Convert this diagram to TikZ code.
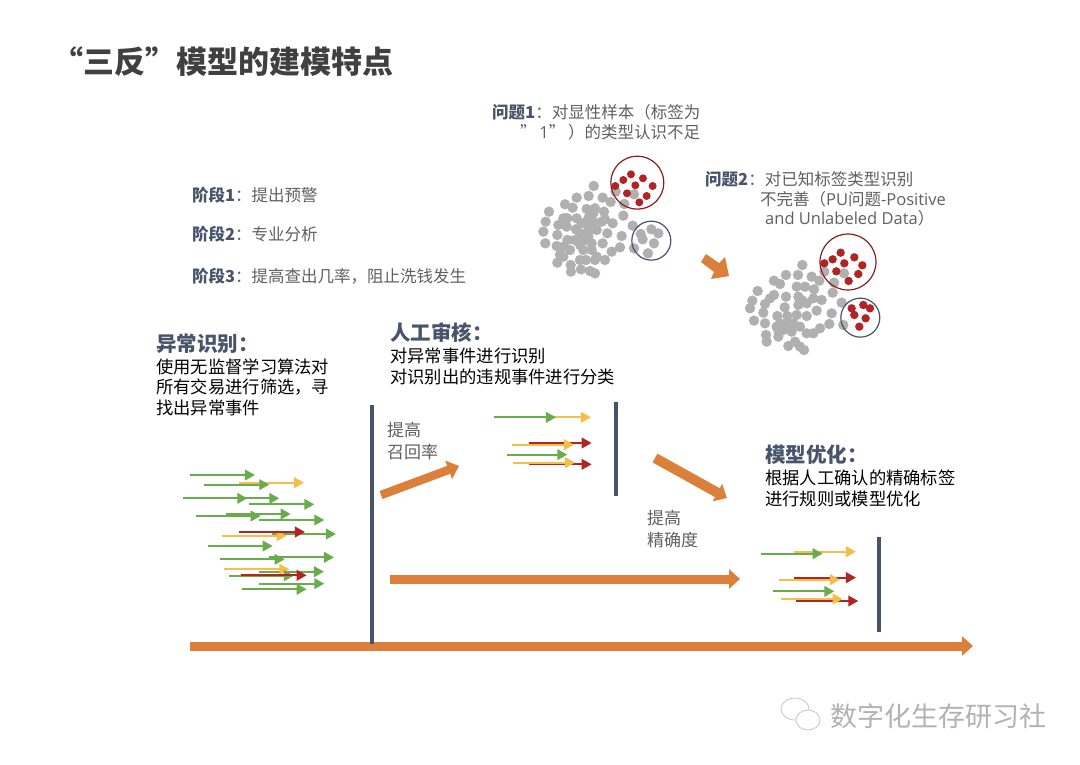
\documentclass[tikz,border=0pt]{standalone}
\usepackage{xcolor}
\usepackage{fontspec}
\setmainfont{Noto Sans CJK SC}
\newfontfamily\latinfont{Open Sans}
\usetikzlibrary{arrows.meta, positioning}
\definecolor{FlowOrange}{RGB}{219, 127, 58}
\definecolor{FlowNavy}{RGB}{72, 84, 106}
\definecolor{FlowGreen}{RGB}{106, 171, 76}
\definecolor{FlowYellow}{RGB}{243, 190, 75}
\definecolor{FlowRed}{RGB}{176, 36, 36}
\definecolor{DotGray}{RGB}{176, 176, 176}
\definecolor{TitleGray}{RGB}{64, 64, 64}
\definecolor{NoteGray}{RGB}{96, 96, 96}
\tikzset{
  textnote/.style={anchor=west, inner sep=0pt, text=NoteGray, font=\fontsize{16.5}{20}\selectfont},
  headnote/.style={anchor=west, inner sep=0pt, text=FlowNavy, font=\fontsize{20.5}{24}\selectfont\bfseries},
  bodynote/.style={anchor=north west, inner sep=0pt, align=left, text=black, font=\fontsize{17.3}{20.5}\selectfont},
  gainnote/.style={anchor=north west, inner sep=0pt, align=left, text=NoteGray, font=\fontsize{17}{22}\selectfont},
  fatarrow/.style={draw=FlowOrange, line width=#1, -{Triangle[length=11pt, width=19pt, fill=FlowOrange]}},
  limitline/.style={draw=FlowNavy, line width=3.5pt},
  greenarrow/.style={draw=FlowGreen, line width=2.2pt, -{Triangle[length=10pt, width=10.5pt]}},
  yellowarrow/.style={draw=FlowYellow, line width=2.2pt, -{Triangle[length=10pt, width=10.5pt]}},
  redarrow/.style={draw=FlowRed, line width=2.2pt, -{Triangle[length=10pt, width=10.5pt]}},
}
\newcommand{\stagelabel}[1]{{\bfseries\color{FlowNavy}#1}}
\begin{document}
\begin{tikzpicture}[x=1pt,y=-1pt]
  \path[use as bounding box, fill=white] (0,0) rectangle (1080,764);

  % Title
  \node[anchor=west, inner sep=0pt, text=TitleGray, font=\fontsize{31}{36}\selectfont\bfseries] (title) at (52,62) {“三反”模型的建模特点};

  % Stages
  \node[textnote] (stagea) at (192,195) {\stagelabel{阶段1}：提出预警};
  \node[textnote] (stageb) at (192,234) {\stagelabel{阶段2}：专业分析};
  \node[textnote] (stagec) at (192,276) {\stagelabel{阶段3}：提高查出几率，阻止洗钱发生};

  % Problems
  \node[textnote] (proba) at (492,112) {\stagelabel{问题1}：对显性样本（标签为};
  \node[textnote] (probb) at (520,132) {”\,{\latinfont 1}”\,）的类型认识不足};
  \node[textnote] (probc) at (705,179) {\stagelabel{问题2}：对已知标签类型识别};
  \node[textnote] (probd) at (760,199) {不完善（{\latinfont PU}问题{\latinfont -Positive}};
  \node[textnote] (probe) at (765,218) {{\latinfont and Unlabeled Data}）};

  % First cluster
  \begin{scope}[shift={(480,90)},x=0.3333pt,y=-0.3333pt]
    \foreach \xa/\ya in {341/288,290/323,326/318,368/323,392/336,255/343,278/353,320/357,345/355,207/365,372/365,250/385,290/385,325/385,375/388,430/377,197/395,235/405,262/385,305/400,340/395,398/400,458/407,190/425,232/435,288/418,330/420,350/420,382/430,425/438,262/450,285/450,315/450,335/460,368/460,196/460,230/468,420/472,395/485,462/475,270/480,310/480,240/495,350/500,375/510,318/510,232/518,272/525,273/545,303/538,330/543,345/550,250/470,300/430,325/440,320/400,340/370,407/305,462/313,433/342,482/432,488/448,514/418,535/430,522/460,504/490,260/410,255/385,335/480,300/510,345/510,250/500,365/395,325/420,300/465}
      \fill[DotGray] (\xa,\ya) circle (5.2pt);
    \foreach \xa/\ya in {406/288,430/270,453/253,489/265,518/288,466/286,441/310,500/318,478/337}
      \fill[FlowRed] (\xa,\ya) circle (4pt);
    \draw[FlowRed!80!black, line width=1.2pt] (472,278) circle (26.5pt);
    \draw[FlowNavy, line width=1.2pt] (514,452) circle (19.5pt);
  \end{scope}

  % Second cluster
  \begin{scope}[shift={(700,160)},x=0.3333pt,y=-0.3333pt]
    \foreach \xa/\ya in {307/315,258/345,294/345,335/350,358/362,222/362,240/372,290/380,315/380,173/393,342/388,402/368,398/398,222/405,258/410,295/410,340/415,365/420,425/428,157/422,195/432,254/442,295/435,320/430,350/452,395/460,150/445,190/458,232/468,262/468,290/465,320/468,162/482,195/490,240/490,280/490,388/492,360/505,430/495,320/520,340/520,235/510,198/525,200/545,235/530,265/558,285/545,300/560,312/570,275/515,373/335,432/340,210/415,305/420,265/490,250/510,300/500,230/500}
      \fill[DotGray] (\xa,\ya) circle (5.2pt);
    \foreach \xa/\ya in {373/310,398/298,422/278,463/292,487/316,433/310,409/334,475/342,446/363,455/445,463/465,490/435,510/445,497/475,478/500}
      \fill[FlowRed] (\xa,\ya) circle (4.2pt);
    \draw[FlowRed!80!black, line width=1.2pt] (444,306) circle (28pt);
    \draw[FlowNavy, line width=1.2pt] (481,473) circle (19.5pt);
  \end{scope}
  \fill[FlowOrange] (701,262) -- (706,254) -- (719,263) -- (725,257) -- (729,276) -- (711,279) -- (714,272) -- cycle;

  % Step headings
  \node[headnote] (heada) at (156,344) {异常识别：};
  \node[bodynote] (bodya) at (156,358.5) {使用无监督学习算法对\\所有交易进行筛选，寻\\找出异常事件};
  \node[headnote] (headb) at (390,333) {人工审核：};
  \node[bodynote] (bodyb) at (390,348) {对异常事件进行识别\\对识别出的违规事件进行分类};
  \node[headnote] (headc) at (765,455) {模型优化：};
  \node[bodynote] (bodyc) at (765,470) {根据人工确认的精确标签\\进行规则或模型优化};
  \node[gainnote] (gaina) at (387,422) {提高\\召回率};
  \node[gainnote] (gainb) at (647,510) {提高\\精确度};

  % Orange arrows
  \draw[fatarrow=9pt] (190,646) -- (973,646);
  \draw[fatarrow=9pt] (390,579) -- (740,579);
  \draw[fatarrow=8.5pt] (381,495) -- (459,466);
  \draw[fatarrow=10pt] (655,458) -- (727,498);

  % Limits
  \draw[limitline, line width=4.5pt] (372,405) -- (372,644);
  \draw[limitline] (616,402) -- (616,496);
  \draw[limitline] (879,537) -- (879,632);

  % Sample arrows
  \begin{scope}[shift={(170,450)},x=0.3333pt,y=-0.3333pt]
    \foreach \xa/\ya/\xb/\kind in {208/98/402/yellow,60/75/255/green,102/104/298/green,135/145/328/green,38/145/232/green,238/163/433/green,168/192/362/green,78/198/272/green,268/210/463/green,305/252/498/green,155/257/350/yellow,208/246/405/red,115/288/308/green,298/322/492/green,150/328/344/green,268/365/462/green,162/358/358/yellow,178/377/372/green,212/376/410/red,268/401/463/green,215/418/410/green}
      \draw[\kind arrow] (\xa,\ya) -- (\xb,\ya);
  \end{scope}
  \begin{scope}[shift={(480,400)},x=0.3333pt,y=-0.3333pt]
    \foreach \xa/\ya/\xb/\kind in {140/52/333/yellow,42/52/228/green,148/129/335/red,97/134/282/yellow,80/164/262/green,148/193/335/red,100/188/285/yellow}
      \draw[\kind arrow] (\xa,\ya) -- (\xb,\ya);
  \end{scope}
  \begin{scope}[shift={(750,530)},x=0.3333pt,y=-0.3333pt]
    \foreach \xa/\ya/\xb/\kind in {132/65/318/yellow,32/71/218/green,132/143/318/red,87/149/270/yellow,68/184/253/green,138/213/325/red,92/207/278/yellow}
      \draw[\kind arrow] (\xa,\ya) -- (\xb,\ya);
  \end{scope}

  % Watermark
  \draw[gray!45, line width=0.8pt, fill=white] (795,709) ellipse (14pt and 11pt);
  \draw[gray!45, line width=0.8pt, fill=white] (808,720) ellipse (12pt and 10pt);
  \node[anchor=west, inner sep=0pt, text=gray!60, font=\fontsize{27}{30}\selectfont] (mark) at (830,716) {数字化生存研习社};
\end{tikzpicture}
\end{document}
